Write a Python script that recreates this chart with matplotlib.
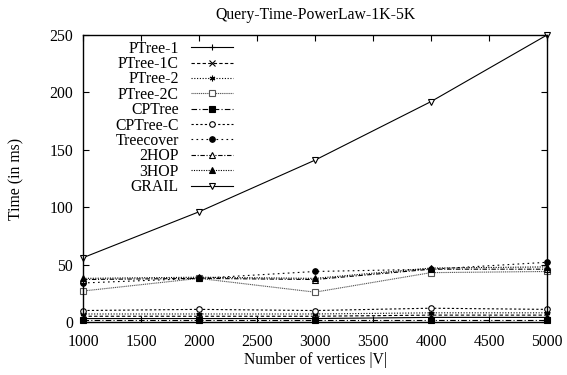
import matplotlib.pyplot as plt

plt.rcParams['font.family'] = ['Liberation Serif', 'DejaVu Serif']

vertices = [1000, 2000, 3000, 4000, 5000]

ptree_1 = [3, 3, 3, 4, 4]
ptree_1c = [5, 5, 5, 6, 6]
ptree_2 = [7, 7, 7, 8, 8]
ptree_2c = [27, 38, 26, 43, 44]
cptree = [2, 2, 2, 2, 2]
cptree_c = [10, 11, 10, 12, 11]
treecover = [34, 38, 44, 46, 52]
hop2 = [37, 38, 37, 46, 46]
hop3 = [38, 39, 38, 47, 48]
grail = [56, 96, 141, 192, 250]

series = [
    ("PTree-1", ptree_1, dict(ls='-', marker='+', color='black')),
    ("PTree-1C", ptree_1c, dict(ls=(0, (3, 2)), marker='x', color='black')),
    ("PTree-2", ptree_2, dict(ls=(0, (1, 1.5)), marker=(6, 2, 0), color='black')),
    ("PTree-2C", ptree_2c, dict(ls=(0, (1, 0.7)), marker='s', mfc='white', color='#555555')),
    ("CPTree", cptree, dict(ls=(0, (5, 2, 1, 2)), marker='s', color='black')),
    ("CPTree-C", cptree_c, dict(ls=(0, (2, 2)), marker='o', mfc='white', color='black')),
    ("Treecover", treecover, dict(ls=(0, (1.5, 3)), marker='o', color='black')),
    ("2HOP", hop2, dict(ls=(0, (4, 1.5, 1, 1.5)), marker='^', mfc='white', color='black')),
    ("3HOP", hop3, dict(ls=(0, (1, 1.2)), marker='^', color='black')),
    ("GRAIL", grail, dict(ls='-', marker='v', mfc='white', color='black')),
]

fs = 11.3

fig = plt.figure(figsize=(5.67, 3.75), dpi=100)
ax = fig.add_axes([83 / 567, 1 - 322 / 375, 464 / 567, 287 / 375])

for name, vals, style in series:
    ax.plot(vertices, vals, label=name, lw=0.8, ms=4, mew=0.8, clip_on=False, **style)

ax.set_xlim(1000, 5000)
ax.set_ylim(0, 250)
ax.set_xticks(range(1000, 5001, 500))
ax.set_yticks(range(0, 251, 50))
ax.tick_params(direction='in', top=True, right=True, length=4, width=0.8,
               labelsize=fs)
ax.tick_params(axis='x', pad=9)
ax.tick_params(axis='y', pad=7)
for sp in ax.spines.values():
    sp.set_linewidth(1.0)

ax.set_title("Query-Time-PowerLaw-1K-5K", fontsize=fs, pad=11.5)
ax.set_xlabel("Number of vertices |V|", fontsize=fs)
ax.set_ylabel("Time (in ms)", fontsize=fs)
ax.xaxis.set_label_coords(0.5, -0.105)
ax.yaxis.set_label_coords(-0.127, 0.5)

ax.legend(loc='upper right', markerfirst=False, frameon=False, fontsize=fs,
          handlelength=2.7, handletextpad=0.75, labelspacing=-0.04,
          borderpad=0, borderaxespad=0,
          bbox_to_anchor=(150 / 464, 0.98), bbox_transform=ax.transAxes)

fig.savefig('out.png', dpi=100)
